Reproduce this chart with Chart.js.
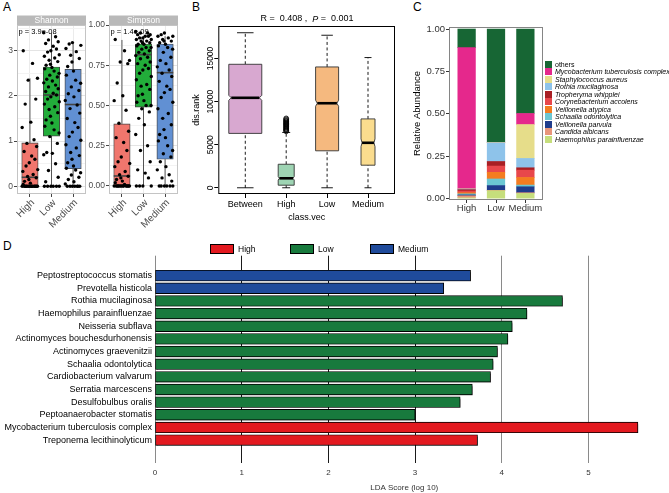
<!DOCTYPE html>
<html>
<head>
<meta charset="utf-8">
<script src="https://cdn.jsdelivr.net/npm/chart.js@4.4.1/dist/chart.umd.min.js"></script>
<style>
  body { margin: 0; background: #fff; width: 669px; height: 493px; position: relative; overflow: hidden;
         font-family: "Liberation Sans", Arial, sans-serif; }
  canvas { position: absolute; }
  .tag { position: absolute; font-size: 12px; line-height: 12px; color: #000; }
  #legC { position: absolute; left: 545px; top: 60.5px; font-size: 7px; color: #000; }
  #legC .row { display: flex; align-items: center; height: 7.5px; white-space: nowrap; }
  #legC .sw { width: 7px; height: 7px; margin-right: 3px; }
  #legD { position: absolute; left: 210px; top: 244px; display: flex; font-size: 8.5px; }
  #legD .item { width: 80px; display: flex; align-items: center; }
  #legD .sw { width: 22px; height: 8px; border: 1px solid #000; margin-right: 4px; }
</style>
</head>
<body>
<div class="tag" style="left:3px;top:1px">A</div>
<div class="tag" style="left:192px;top:1px">B</div>
<div class="tag" style="left:413px;top:1px">C</div>
<div class="tag" style="left:3px;top:240px">D</div>

<canvas id="shannon" width="90" height="228" style="left:0;top:0"></canvas>
<canvas id="simpson" width="96" height="228" style="left:86px;top:0"></canvas>
<canvas id="dist" width="230" height="228" style="left:170px;top:0"></canvas>
<canvas id="abund" width="146" height="228" style="left:400px;top:0"></canvas>
<div id="legC"></div>
<canvas id="lda" width="669" height="253" style="left:0;top:240px"></canvas>
<div id="legD"></div>

<script>
/* ===== A: alpha diversity ===== */
const groups = ["High", "Low", "Medium"];
const groupFill = ["#f0766d", "#22ad3a", "#6190d3"];

// [min, q1, median, q3, max]
const shannonStats = [[0, 0, 0.2, 0.96, 2.39], [0, 1.11, 2.02, 2.64, 3.39], [0, 0.39, 1.81, 2.59, 3.18]];
const simpsonStats = [[0, 0, 0.062, 0.386, 0.907], [0, 0.49, 0.816, 0.882, 0.93], [0, 0.166, 0.704, 0.882, 0.93]];

const shannonHigh = [3.0, 2.72, 2.39, 2.35, 1.93, 1.82, 1.42, 1.3, 1.03, 0.95, 0.88, 0.77, 0.67, 0.6, 0.52,
  0.45, 0.37, 0.33, 0.26, 0.22, 0.19, 0.15, 0.11, 0.07, 0.04, 0, 0, 0, 0, 0, 0, 0, 0, 0, 0, 0, 0, 0, 0, 0];
const shannonLow = [3.4, 3.31, 3.24, 3.2, 3.16, 3.1, 3.04, 3.0, 2.97, 2.91, 2.88, 2.84, 2.79, 2.76, 2.7, 2.68,
  2.63, 2.6, 2.55, 2.5, 2.46, 2.42, 2.37, 2.33, 2.29, 2.24, 2.2, 2.16, 2.1, 2.06, 2.02, 1.98, 1.93, 1.87,
  1.82, 1.76, 1.7, 1.63, 1.55, 1.47, 1.4, 1.33, 1.25, 1.18, 1.1, 0.95, 0.75, 0.73, 0.7, 0.5, 0.35, 0.2,
  0.1, 0, 0, 0, 0, 0, 0];
const shannonMedium = [3.18, 3.15, 3.12, 3.05, 2.98, 2.9, 2.83, 2.75, 2.65, 2.55, 2.46, 2.35, 2.28, 2.2,
  2.12, 2.05, 1.98, 1.9, 1.8, 1.72, 1.62, 1.5, 1.41, 1.3, 1.2, 1.1, 1.02, 0.92, 0.85, 0.75, 0.68, 0.6,
  0.52, 0.45, 0.4, 0.36, 0.3, 0.25, 0.2, 0.15, 0.1, 0.05, 0, 0, 0, 0, 0, 0, 0];
const simpsonHigh = [0.91, 0.84, 0.78, 0.77, 0.76, 0.64, 0.56, 0.53, 0.47, 0.39, 0.34, 0.3, 0.27, 0.22,
  0.18, 0.15, 0.14, 0.12, 0.09, 0.07, 0.06, 0.05, 0.04, 0.03, 0.02, 0.01, 0, 0, 0, 0, 0, 0, 0, 0, 0, 0,
  0, 0, 0, 0];
const simpsonLow = [0.96, 0.95, 0.95, 0.94, 0.94, 0.93, 0.93, 0.92, 0.92, 0.91, 0.91, 0.9, 0.9, 0.89, 0.89,
  0.88, 0.88, 0.87, 0.86, 0.86, 0.85, 0.84, 0.83, 0.82, 0.81, 0.8, 0.79, 0.77, 0.76, 0.75, 0.73, 0.72,
  0.7, 0.68, 0.66, 0.63, 0.62, 0.6, 0.57, 0.56, 0.53, 0.52, 0.5, 0.5, 0.48, 0.46, 0.42, 0.38, 0.32, 0.25,
  0.22, 0.15, 0.1, 0.08, 0.05, 0, 0, 0, 0];
const simpsonMedium = [0.95, 0.94, 0.93, 0.93, 0.92, 0.91, 0.9, 0.9, 0.89, 0.88, 0.87, 0.86, 0.85, 0.83,
  0.8, 0.78, 0.76, 0.74, 0.72, 0.7, 0.68, 0.65, 0.62, 0.6, 0.58, 0.55, 0.52, 0.48, 0.45, 0.42, 0.38, 0.35,
  0.32, 0.3, 0.28, 0.25, 0.22, 0.2, 0.18, 0.15, 0.12, 0.1, 0.07, 0.05, 0.03, 0, 0, 0, 0, 0, 0];

const shannonTicks = [0, 1, 2, 3];
const shannonMinor = [0.5, 1.5, 2.5, 3.5];
const simpsonTicks = [0, 0.25, 0.5, 0.75, 1];
const simpsonMinor = [0.125, 0.375, 0.625, 0.875];

// horizontal spread of the dots (category units)
const jitter = [-0.31, 0.12, 0.35, -0.08, 0.27, -0.22, 0.04, -0.36, 0.19, -0.14,
  0.31, -0.27, 0.08, 0.23, -0.03, -0.18, 0.36, -0.33, 0.15, -0.11, 0.29, -0.05, -0.25, 0.02];

/* ===== B: ANOSIM ===== */
const distClasses = ["Between", "High", "Low", "Medium"];
const distFill = ["#d8a8d0", "#9ed4b3", "#f5b97f", "#fadc8e"];
const distStats = [[0, 6310, 10440, 14330, 17990], [0, 300, 1100, 2730, 6420],
  [0, 4290, 9810, 14020, 17700], [0, 2620, 5220, 7990, 15110]];
const distNotch = [290, 200, 350, 450];
const highOutliers = [6550, 6650, 6700, 6800, 6850, 6950, 7050, 7100, 7200, 7300, 7350, 7450,
  7500, 7600, 7700, 7750, 7850, 7950, 8050];
const distTicks = [0, 5000, 10000, 15000];
const distBoxPx = [33, 16, 23, 14];

/* ===== C: relative abundance ===== */
const abundGroups = ["High", "Low", "Medium"];
const taxa = ["others", "Mycobacterium tuberculosis complex", "Staphylococcus aureus",
  "Rothia mucilaginosa", "Tropheryma whipplei", "Corynebacterium accolens", "Veillonella atypica",
  "Schaalia odontolytica", "Veillonella parvula", "Candida albicans", "Haemophilus parainfluenzae"];
const taxaColors = ["#176634", "#e5288c", "#e6dd8a", "#8ec3ea", "#a81f24", "#e8474b", "#f47c20",
  "#6cc7d3", "#1f3c8c", "#e8957a", "#c6de7c"];
const abundHigh = [0.11, 0.832, 0.002, 0.003, 0.008, 0.01, 0.007, 0.006, 0.005, 0.012, 0.005];
const abundLow = [0.668, 0.001, 0.002, 0.11, 0.027, 0.037, 0.039, 0.039, 0.028, 0.002, 0.047];
const abundMedium = [0.498, 0.065, 0.2, 0.055, 0.014, 0.043, 0.045, 0.01, 0.035, 0.004, 0.031];
const abundTicks = [0, 0.25, 0.5, 0.75, 1];

/* ===== D: LEfSe ===== */
const ldaTaxa = ["Peptostreptococcus stomatis", "Prevotella histicola", "Rothia mucilaginosa",
  "Haemophilus parainfluenzae", "Neisseria subflava", "Actinomyces bouchesdurhonensis",
  "Actinomyces graevenitzii", "Schaalia odontolytica", "Cardiobacterium valvarum",
  "Serratia marcescens", "Desulfobulbus oralis", "Peptoanaerobacter stomatis",
  "Mycobacterium tuberculosis complex", "Treponema lecithinolyticum"];
const ldaScores = [3.64, 3.33, 4.70, 4.29, 4.12, 4.07, 3.95, 3.90, 3.87, 3.66, 3.52, 3.00, 5.57, 3.72];
const ldaGroup = ["Medium", "Medium", "Low", "Low", "Low", "Low", "Low", "Low", "Low", "Low", "Low", "Low",
  "High", "High"];
const ldaLegend = ["High", "Low", "Medium"];
const ldaColors = ["#e3191f", "#187a3d", "#1f4b9b"];
const ldaTicks = [0, 1, 2, 3, 4, 5];

Chart.defaults.font.family = '"Liberation Sans", Arial, sans-serif';
Chart.defaults.animation = false;
Chart.defaults.responsive = false;
Chart.defaults.plugins.legend.display = false;
Chart.defaults.plugins.tooltip.enabled = false;

const FONT = '"Liberation Sans", Arial, sans-serif';

// fixed axis boxes, no label overhang padding
const fixH = h => s => { s.height = h; s.paddingLeft = 0; s.paddingRight = 0; };
const fixW = w => s => { s.width = w; s.paddingTop = 0; s.paddingBottom = 0; };

/* ---------- A ---------- */
function alphaPanel(id, strip, pText, stats, pts, yMin, yMax, major, minor, fmt, yWidth) {
  const allTicks = major.concat(minor).sort((a, b) => a - b);
  const isMajor = v => major.includes(v);

  const extras = {
    id: "alphaExtras",
    beforeDatasetsDraw(chart) {
      const { ctx, chartArea: a } = chart;
      ctx.save();
      ctx.strokeStyle = "#c4c4c4";
      ctx.lineWidth = 1;
      ctx.strokeRect(a.left + 0.5, a.top + 0.5, a.width - 1, a.height - 1);
      ctx.restore();
    },
    beforeDatasetDraw(chart, args) {
      if (args.index !== 0) return;
      const { ctx, scales: { x, y } } = chart;
      ctx.save();
      ctx.strokeStyle = "#555";
      ctx.lineWidth = 1;
      stats.forEach((s, i) => {
        const px = x.getPixelForValue(i + 1);
        ctx.beginPath();
        ctx.moveTo(px, y.getPixelForValue(s[0]));
        ctx.lineTo(px, y.getPixelForValue(s[1]));
        ctx.moveTo(px, y.getPixelForValue(s[3]));
        ctx.lineTo(px, y.getPixelForValue(s[4]));
        ctx.stroke();
      });
      ctx.restore();
    },
    afterDatasetDraw(chart, args) {
      if (args.index !== 0) return;
      const { ctx, scales: { y } } = chart;
      const meta = chart.getDatasetMeta(0);
      ctx.save();
      ctx.strokeStyle = "#444";
      ctx.lineWidth = 1.6;
      meta.data.forEach((el, i) => {
        const py = y.getPixelForValue(stats[i][2]);
        ctx.beginPath();
        ctx.moveTo(el.x - el.width / 2, py);
        ctx.lineTo(el.x + el.width / 2, py);
        ctx.stroke();
      });
      ctx.restore();
    },
    afterDraw(chart) {
      const { ctx, chartArea: a } = chart;
      ctx.save();
      ctx.fillStyle = "#b9b9b9";
      ctx.fillRect(a.left, a.top - 9.5, a.width, 9.5);
      ctx.fillStyle = "#fff";
      ctx.font = "8.5px " + FONT;
      ctx.textAlign = "center";
      ctx.textBaseline = "middle";
      ctx.fillText(strip, (a.left + a.right) / 2, a.top - 4.5);
      ctx.fillStyle = "#000";
      ctx.font = "7.5px " + FONT;
      ctx.textAlign = "left";
      ctx.fillText(pText, a.left + 1.5, a.top + 7);
      ctx.restore();
    }
  };

  const datasets = [{
    type: "bar",
    order: 1,
    data: stats.map((s, i) => ({ x: i + 1, y: [s[1], s[3]] })),
    backgroundColor: groupFill,
    borderColor: "#444",
    borderWidth: 0.9,
    borderSkipped: false,
    barThickness: 16.4
  }];
  pts.forEach((arr, g) => datasets.push({
    type: "scatter",
    order: 0,
    data: arr.map((v, k) => ({ x: g + 1 + jitter[(k + g * 7) % jitter.length], y: v })),
    pointRadius: 1.7,
    pointBackgroundColor: "#000",
    pointBorderWidth: 0
  }));

  new Chart(document.getElementById(id), {
    type: "bar",
    data: { datasets },
    plugins: [extras],
    options: {
      layout: { padding: { top: 25, right: 3 } },
      scales: {
        x: {
          type: "linear", min: 0.4, max: 3.6, offset: false,
          afterBuildTicks: s => { s.ticks = [1, 2, 3].map(v => ({ value: v })); },
          afterFit: fixH(34),
          ticks: { callback: v => groups[v - 1], minRotation: 45, maxRotation: 45, autoSkip: false,
                   color: "#4d4d4d", font: { size: 10 }, padding: 0, labelOffset: 3 },
          grid: { color: "#ebebeb", tickColor: "#444", tickLength: 3, offset: false },
          border: { display: false }
        },
        y: {
          min: yMin, max: yMax,
          afterBuildTicks: s => { s.ticks = allTicks.map(v => ({ value: v })); },
          afterFit: fixW(yWidth),
          ticks: { callback: v => isMajor(v) ? fmt(v) : "", autoSkip: false, color: "#4d4d4d",
                   font: { size: 8.5 }, padding: 1 },
          grid: { color: c => isMajor(c.tick.value) ? "#e4e4e4" : "#f3f3f3",
                  tickColor: c => isMajor(c.tick.value) ? "#444" : "rgba(0,0,0,0)", tickLength: 3 },
          border: { display: false }
        }
      }
    }
  });
}

alphaPanel("shannon", "Shannon", "p = 3.9e-08", shannonStats, [shannonHigh, shannonLow, shannonMedium],
  -0.17, 3.57, shannonTicks, shannonMinor, v => String(v), 17);
alphaPanel("simpson", "Simpson", "p = 1.4e-09", simpsonStats, [simpsonHigh, simpsonLow, simpsonMedium],
  -0.05, 1.0, simpsonTicks, simpsonMinor, v => v.toFixed(2), 23);

/* ---------- B ---------- */
const distExtras = {
  id: "distExtras",
  beforeDatasetsDraw(chart) {
    const { ctx, scales: { x, y } } = chart;
    ctx.save();
    distStats.forEach((s, i) => {
      const cx = x.getPixelForValue(i + 1);
      const hw = distBoxPx[i] / 2;
      const yMin = y.getPixelForValue(s[0]), yQ1 = y.getPixelForValue(s[1]);
      const yMed = y.getPixelForValue(s[2]), yQ3 = y.getPixelForValue(s[3]);
      const yMax = y.getPixelForValue(s[4]);
      const nLo = y.getPixelForValue(s[2] - distNotch[i]), nHi = y.getPixelForValue(s[2] + distNotch[i]);
      const inset = hw * 0.85;
      // whiskers
      ctx.strokeStyle = "#000";
      ctx.lineWidth = 0.9;
      ctx.setLineDash([3, 2.5]);
      ctx.beginPath();
      ctx.moveTo(cx, yMin); ctx.lineTo(cx, yQ1);
      ctx.moveTo(cx, yQ3); ctx.lineTo(cx, yMax);
      ctx.stroke();
      ctx.setLineDash([]);
      ctx.beginPath();
      ctx.moveTo(cx - hw / 2, yMin); ctx.lineTo(cx + hw / 2, yMin);
      ctx.moveTo(cx - hw / 2, yMax); ctx.lineTo(cx + hw / 2, yMax);
      ctx.stroke();
      // notched box
      ctx.beginPath();
      ctx.moveTo(cx - hw, yQ1);
      ctx.lineTo(cx + hw, yQ1);
      ctx.lineTo(cx + hw, nLo);
      ctx.lineTo(cx + inset, yMed);
      ctx.lineTo(cx + hw, nHi);
      ctx.lineTo(cx + hw, yQ3);
      ctx.lineTo(cx - hw, yQ3);
      ctx.lineTo(cx - hw, nHi);
      ctx.lineTo(cx - inset, yMed);
      ctx.lineTo(cx - hw, nLo);
      ctx.closePath();
      ctx.fillStyle = distFill[i];
      ctx.fill();
      ctx.strokeStyle = "#333";
      ctx.lineWidth = 0.9;
      ctx.stroke();
      // median
      ctx.strokeStyle = "#000";
      ctx.lineWidth = 2.6;
      ctx.beginPath();
      ctx.moveTo(cx - inset, yMed); ctx.lineTo(cx + inset, yMed);
      ctx.stroke();
    });
    ctx.restore();
  },
  afterDraw(chart) {
    const { ctx, chartArea: a, scales: { y } } = chart;
    ctx.save();
    ctx.strokeStyle = "#000";
    ctx.lineWidth = 1;
    ctx.strokeRect(a.left + 0.5, a.top + 0.5, a.width - 1, a.height - 1);
    // rotated y tick labels
    ctx.fillStyle = "#000";
    ctx.font = "8.5px " + FONT;
    ctx.textAlign = "center";
    ctx.textBaseline = "middle";
    distTicks.forEach(v => {
      ctx.save();
      ctx.translate(a.left - 8, y.getPixelForValue(v));
      ctx.rotate(-Math.PI / 2);
      ctx.fillText(String(v), 0, 0);
      ctx.restore();
    });
    // title with italic P
    const parts = [["R =  0.408 ,  ", "normal"], ["P", "italic"], [" =  0.001", "normal"]];
    let total = 0;
    parts.forEach(p => { ctx.font = p[1] + " 9px " + FONT; total += ctx.measureText(p[0]).width; });
    let tx = 137 - total / 2;
    ctx.textAlign = "left";
    parts.forEach(p => {
      ctx.font = p[1] + " 9px " + FONT;
      ctx.fillText(p[0], tx, 19);
      tx += ctx.measureText(p[0]).width;
    });
    ctx.restore();
  }
};

new Chart(document.getElementById("dist"), {
  type: "scatter",
  data: {
    datasets: [{
      data: highOutliers.map(v => ({ x: 2, y: v })),
      pointRadius: 2.4,
      pointBackgroundColor: "rgba(0,0,0,0)",
      pointBorderColor: "#000",
      pointBorderWidth: 0.8
    }]
  },
  plugins: [distExtras],
  options: {
    layout: { padding: { top: 26, right: 5 } },
    scales: {
      x: {
        type: "linear", min: 0.34, max: 4.66,
        afterBuildTicks: s => { s.ticks = [1, 2, 3, 4].map(v => ({ value: v })); },
        afterFit: fixH(34),
        ticks: { callback: v => distClasses[v - 1], autoSkip: false, maxRotation: 0, color: "#000",
                 font: { size: 9 }, padding: 1 },
        grid: { drawOnChartArea: false, tickLength: 4, tickColor: "#000" },
        border: { display: false },
        title: { display: true, text: "class.vec", color: "#000", font: { size: 9 },
                 padding: { top: 0, bottom: 5.5 } }
      },
      y: {
        min: -722, max: 18772,
        afterBuildTicks: s => { s.ticks = distTicks.map(v => ({ value: v })); },
        afterFit: fixW(48.3),
        ticks: { display: false },
        grid: { drawOnChartArea: false, tickLength: 4, tickColor: "#000" },
        border: { display: false },
        title: { display: true, text: "dis.rank", color: "#000", font: { size: 9 },
                 padding: { top: 21.5, bottom: 0 } }
      }
    }
  }
});

/* ---------- C ---------- */
const abundFrame = {
  id: "abundFrame",
  afterDraw(chart) {
    const { ctx, chartArea: a } = chart;
    ctx.save();
    ctx.strokeStyle = "#858585";
    ctx.lineWidth = 1;
    ctx.strokeRect(a.left + 0.5, a.top + 0.5, a.width - 1, a.height - 1);
    ctx.restore();
  }
};

const abundSets = taxa.map((t, k) => ({
  label: t,
  data: [abundHigh[k], abundLow[k], abundMedium[k]].map((v, g) => ({ x: g + 1, y: v })),
  backgroundColor: taxaColors[k],
  borderWidth: 0,
  barThickness: 17.6
})).reverse();

new Chart(document.getElementById("abund"), {
  type: "bar",
  data: { datasets: abundSets },
  plugins: [abundFrame],
  options: {
    layout: { padding: { top: 27, right: 3 } },
    scales: {
      x: {
        type: "linear", min: 0.4, max: 3.6, stacked: true, offset: false,
        afterBuildTicks: s => { s.ticks = [1, 2, 3].map(v => ({ value: v })); },
        afterFit: fixH(28),
        ticks: { callback: v => abundGroups[v - 1], autoSkip: false, maxRotation: 0, color: "#333",
                 font: { size: 9.5 }, padding: 0 },
        grid: { drawOnChartArea: false, tickLength: 3, tickColor: "#333", offset: false },
        border: { display: false }
      },
      y: {
        stacked: true, min: -0.008, max: 1.012,
        afterBuildTicks: s => { s.ticks = abundTicks.map(v => ({ value: v })); },
        afterFit: fixW(49),
        ticks: { callback: v => v.toFixed(2), autoSkip: false, color: "#333", font: { size: 9.5 }, padding: 1 },
        grid: { drawOnChartArea: false, tickLength: 3, tickColor: "#333" },
        border: { display: false },
        title: { display: true, text: "Relative Abundance", color: "#000", font: { size: 9.5 },
                 padding: { top: 12, bottom: 0 } }
      }
    }
  }
});

const legC = document.getElementById("legC");
taxa.forEach((t, k) => {
  const row = document.createElement("div");
  row.className = "row";
  const sw = document.createElement("span");
  sw.className = "sw";
  sw.style.background = taxaColors[k];
  const txt = document.createElement("span");
  txt.textContent = t;
  if (t !== "others") txt.style.fontStyle = "italic";
  row.appendChild(sw);
  row.appendChild(txt);
  legC.appendChild(row);
});

/* ---------- D ---------- */
const barShadow = {
  id: "barShadow",
  beforeDatasetDraw(chart) {
    const c = chart.ctx;
    c.save();
    c.shadowColor = "rgba(0,0,0,0.35)";
    c.shadowOffsetX = 1;
    c.shadowOffsetY = 2;
    c.shadowBlur = 0;
  },
  afterDatasetDraw(chart) { chart.ctx.restore(); }
};

new Chart(document.getElementById("lda"), {
  type: "bar",
  data: {
    datasets: [{
      data: ldaScores.map((v, i) => ({ x: v, y: i })),
      backgroundColor: ldaGroup.map(g => ldaColors[ldaLegend.indexOf(g)]),
      borderColor: "#000",
      borderWidth: 0.9,
      borderSkipped: false,
      barThickness: 10.7
    }]
  },
  plugins: [barShadow],
  options: {
    indexAxis: "y",
    layout: { padding: { top: 15.7, right: 15.5 } },
    scales: {
      x: {
        type: "linear", min: 0, max: 5.75, z: 1,
        afterBuildTicks: s => { s.ticks = ldaTicks.map(v => ({ value: v })); },
        afterFit: fixH(29.7),
        ticks: { color: "#333", font: { size: 8 }, padding: 4.5 },
        grid: { color: c => (c.tick.value >= 1 && c.tick.value <= 3) ? "#1a1a1a" : "#8a8a8a",
                drawTicks: false, lineWidth: 1 },
        border: { display: false },
        title: { display: true, text: "LDA Score (log 10)", color: "#333", font: { size: 8 },
                 padding: { top: 0, bottom: 0 } }
      },
      y: {
        type: "linear", reverse: true, min: -0.99, max: 14.25,
        afterBuildTicks: s => { s.ticks = ldaTaxa.map((t, i) => ({ value: i })); },
        afterFit: fixW(155),
        ticks: { callback: v => ldaTaxa[v], autoSkip: false, color: "#000", font: { size: 9 }, padding: 3 },
        grid: { display: false, drawTicks: false },
        border: { display: false }
      }
    }
  }
});

const legD = document.getElementById("legD");
ldaLegend.forEach((g, k) => {
  const item = document.createElement("div");
  item.className = "item";
  const sw = document.createElement("span");
  sw.className = "sw";
  sw.style.background = ldaColors[k];
  const txt = document.createElement("span");
  txt.textContent = g;
  item.appendChild(sw);
  item.appendChild(txt);
  legD.appendChild(item);
});
</script>
</body>
</html>
